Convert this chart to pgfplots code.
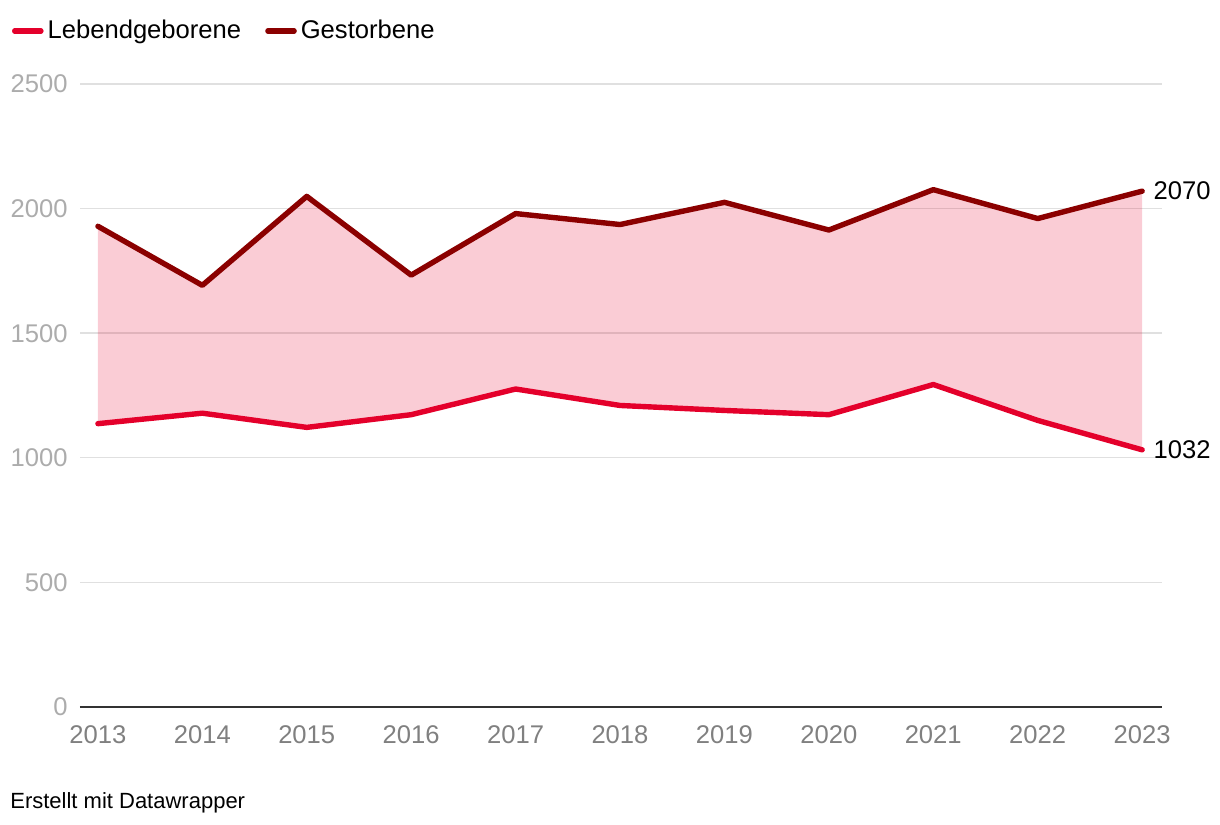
\documentclass[border=0pt]{standalone}
\usepackage{fontspec}
\setmainfont{Liberation Sans}
\usepackage{pgfplots}
\pgfplotsset{compat=1.18}
\usepgfplotslibrary{fillbetween}
\definecolor{lebend}{RGB}{228,0,43}
\definecolor{gest}{RGB}{139,0,0}
\definecolor{ygray}{RGB}{172,172,172}
\definecolor{xgray}{RGB}{128,128,128}
\definecolor{gridc}{RGB}{224,224,224}
\definecolor{axisc}{RGB}{51,51,51}

\begin{document}
\begin{tikzpicture}
\begin{axis}[
  scale only axis, width=541pt, height=311.5pt,
  xmin=2012.828, xmax=2023.19, ymin=0, ymax=2500,
  clip=false,
  axis line style={draw=none},
  major tick length=0pt,
  tick style={draw=none},
  ytick={0,500,1000,1500,2000,2500},
  xtick={2013,2014,...,2023},
  ymajorgrids,
  grid style={gridc, line width=0.7pt},
  /pgf/number format/.cd, 1000 sep={}, assume math mode=true,
  /pgfplots/.cd,
  tick label style={font=\fontsize{12.8}{15}\selectfont},
  yticklabel style={text=ygray, inner sep=0pt, anchor=east, xshift=-6pt},
  xticklabel style={text=xgray, inner sep=0pt, anchor=north, yshift=-9.3pt},
  legend columns=2,
  legend style={at={(-0.0628,1.085)}, anchor=west, draw=none, fill=none,
    inner sep=0pt, outer sep=0pt, font=\fontsize{12.8}{15}\selectfont,
    /tikz/every even column/.append style={column sep=10pt}},
  legend image code/.code={\draw[#1, line width=2.8pt, line cap=round] (1.4pt,0pt) -- (12.6pt,0pt); \path (0pt,0pt) -- (13.1pt,0pt);},
]
\addplot[name path=L, lebend, line width=2.7pt, line join=round, line cap=round] coordinates {
(2013,1137) (2014,1179) (2015,1122) (2016,1173) (2017,1276) (2018,1210)
(2019,1190) (2020,1173) (2021,1294) (2022,1150) (2023,1032)};
\addlegendentry{Lebendgeborene}
\addplot[name path=G, gest, line width=2.7pt, line join=round, line cap=round] coordinates {
(2013,1929) (2014,1692) (2015,2049) (2016,1733) (2017,1980) (2018,1936)
(2019,2025) (2020,1914) (2021,2076) (2022,1960) (2023,2070)};
\addlegendentry{Gestorbene}
\addplot[forget plot, fill=lebend, fill opacity=0.2, draw=none] fill between[of=G and L];
\draw[axisc, line width=0.8pt] (rel axis cs:0,0) -- (rel axis cs:1,0);
\node[anchor=west, inner sep=0pt, xshift=5.5pt, font=\fontsize{12.8}{15}\selectfont] at (axis cs:2023,2070) {2070};
\node[anchor=west, inner sep=0pt, xshift=5.5pt, font=\fontsize{12.8}{15}\selectfont] at (axis cs:2023,1032) {1032};
\node[anchor=west, inner sep=0pt, font=\fontsize{11}{13}\selectfont] at (rel axis cs:-0.0647,-0.1541) {Erstellt mit Datawrapper};
\coordinate (bl) at (rel axis cs:-0.0739,-0.1878);
\coordinate (tr) at (rel axis cs:1.0536,1.1348);
\end{axis}
\path (bl) rectangle (tr);
\end{tikzpicture}
\end{document}
